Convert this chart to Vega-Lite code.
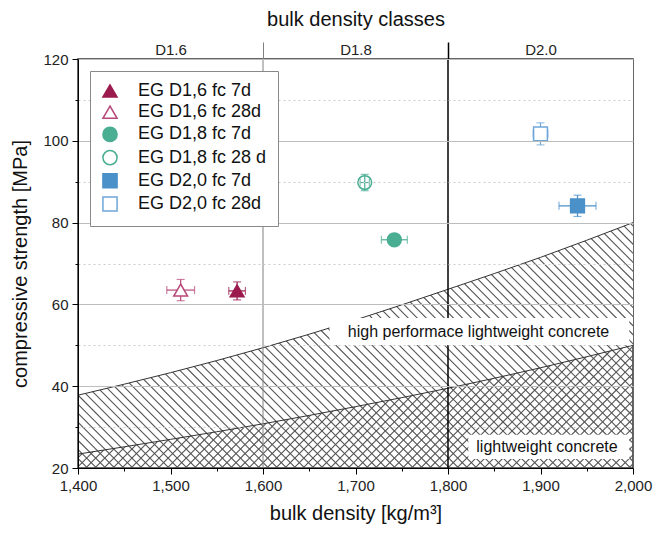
{
  "$schema": "https://vega.github.io/schema/vega-lite/v6.json",
  "width": 555,
  "height": 409,
  "autosize": {"type": "none"},
  "padding": {"left": 78, "top": 59, "right": 22, "bottom": 66},
  "background": "white",
  "config": {
    "font": "Liberation Sans",
    "view": {"stroke": "#333", "strokeWidth": 1.5},
    "axis": {"labelFont": "Liberation Sans", "titleFont": "Liberation Sans", "titleFontWeight": "normal", "labelColor": "#222", "titleColor": "#111", "domainColor": "#000", "tickColor": "#000"},
    "legend": {"labelFont": "Liberation Sans", "labelFontSize": 18, "labelColor": "#111", "symbolSize": 200, "symbolStrokeWidth": 1.5, "symbolOpacity": 1, "padding": 11, "rowPadding": 1.2, "labelOffset": 19, "strokeColor": "#888", "fillColor": "white"}
  },
  "datasets": {
    "points": [
      {"series": "EG D1,6 fc 7d", "x": 1572, "y": 63.3, "xmin": 1563, "xmax": 1581, "ymin": 61.1, "ymax": 65.5},
      {"series": "EG D1,6 fc 28d", "x": 1511, "y": 63.5, "xmin": 1496, "xmax": 1526, "ymin": 60.9, "ymax": 66.1},
      {"series": "EG D1,8 fc 7d", "x": 1742, "y": 75.8, "xmin": 1728, "xmax": 1756, "ymin": 75.0, "ymax": 76.6},
      {"series": "EG D1,8 fc 28 d", "x": 1710, "y": 89.8, "xmin": 1705, "xmax": 1715, "ymin": 87.8, "ymax": 91.8},
      {"series": "EG D2,0 fc 7d", "x": 1940, "y": 84.1, "xmin": 1920, "xmax": 1960, "ymin": 81.5, "ymax": 86.7},
      {"series": "EG D2,0 fc 28d", "x": 1900, "y": 101.7, "xmin": 1892, "xmax": 1908, "ymin": 99.0, "ymax": 104.4}
    ],
    "bounds": [
      {"density": 1400, "upper": 37.8, "lower": 23.4},
      {"density": 1500, "upper": 43.3, "lower": 27.0},
      {"density": 1600, "upper": 49.4, "lower": 30.8},
      {"density": 1700, "upper": 56.2, "lower": 35.0},
      {"density": 1800, "upper": 63.7, "lower": 39.5},
      {"density": 1900, "upper": 71.5, "lower": 44.5},
      {"density": 2000, "upper": 80.0, "lower": 50.0}
    ],
    "labels": [
      {"label": "high performace lightweight concrete", "x1": 1672, "x2": 1996, "y1": 50.1, "y2": 56.7, "tx": 1833, "ty": 53.2},
      {"label": "lightweight concrete", "x1": 1822, "x2": 1996, "y1": 22.2, "y2": 28.1, "tx": 1907, "ty": 25.2}
    ]
  },
  "resolve": {"axis": {"x": "independent"}},
  "layer": [
    {
      "data": {"values": [{}]},
      "mark": {"type": "rule", "clip": true, "strokeWidth": 860, "strokeDash": [1.1, 5.3], "color": "#555"},
      "encoding": {
        "x": {"datum": 1375.7, "type": "quantitative", "scale": {"domain": [1400, 2000], "nice": false, "zero": false}, "axis": null},
        "y": {"datum": 143.35, "type": "quantitative", "scale": {"domain": [20, 120], "nice": false, "zero": false}},
        "x2": {"datum": 2024.3},
        "y2": {"datum": -3.35}
      }
    },
    {
      "data": {"name": "bounds"},
      "mark": {"type": "area", "color": "white", "interpolate": "monotone"},
      "encoding": {
        "x": {"field": "density", "type": "quantitative",
          "axis": {"orient": "bottom", "values": [1400, 1450, 1500, 1550, 1600, 1650, 1700, 1750, 1800, 1850, 1900, 1950, 2000], "format": ",d",
            "labelExpr": "datum.value % 100 == 0 ? datum.label : ''", "title": "bulk density [kg/m³]", "titleFontSize": 20, "titlePadding": 10,
            "labelFontSize": 15, "labelPadding": 4, "tickSize": {"condition": {"test": "datum.value % 100 == 0", "value": 6}, "value": 3},
            "grid": false, "labelFlush": false, "labelOverlap": false, "zindex": 1}},
        "y": {"field": "lower", "type": "quantitative",
          "axis": {"values": [20, 30, 40, 50, 60, 70, 80, 90, 100, 110, 120], "labelExpr": "datum.value % 20 == 0 ? datum.label : ''",
            "title": "compressive strength [MPa]", "titleFontSize": 20, "titlePadding": 12, "labelFontSize": 15, "labelPadding": 4,
            "tickSize": {"condition": {"test": "datum.value % 20 == 0", "value": 6}, "value": 3},
            "grid": true,
            "gridColor": {"condition": {"test": "datum.value % 20 == 0", "value": "#bdbdbd"}, "value": "#cccccc"},
            "gridDash": {"condition": {"test": "datum.value % 20 == 0", "value": []}, "value": [2, 3]},
            "labelFlush": false, "labelOverlap": false, "zindex": 1}},
        "y2": {"datum": 120}
      }
    },
    {
      "data": {"values": [{}]},
      "mark": {"type": "rule", "clip": true, "strokeWidth": 860, "strokeDash": [1.1, 5.3], "color": "#555"},
      "encoding": {
        "x": {"datum": 1375.7, "type": "quantitative", "axis": null},
        "y": {"datum": -3.35, "type": "quantitative"},
        "x2": {"datum": 2024.3},
        "y2": {"datum": 143.35}
      }
    },
    {
      "data": {"name": "bounds"},
      "mark": {"type": "area", "color": "white", "interpolate": "monotone"},
      "encoding": {
        "x": {"field": "density", "type": "quantitative", "axis": null},
        "y": {"field": "upper", "type": "quantitative"},
        "y2": {"datum": 120}
      }
    },
    {
      "data": {"name": "bounds"},
      "mark": {"type": "line", "color": "#333", "strokeWidth": 1, "interpolate": "monotone"},
      "encoding": {
        "x": {"field": "density", "type": "quantitative", "axis": null},
        "y": {"field": "upper", "type": "quantitative"}
      }
    },
    {
      "data": {"name": "bounds"},
      "mark": {"type": "line", "color": "#333", "strokeWidth": 1, "interpolate": "monotone"},
      "encoding": {
        "x": {"field": "density", "type": "quantitative", "axis": null},
        "y": {"field": "lower", "type": "quantitative"}
      }
    },
    {
      "data": {"values": [{}]},
      "mark": {"type": "rule", "color": "#808080", "strokeWidth": 1},
      "encoding": {
        "x": {"datum": 1600, "type": "quantitative",
          "axis": {"orient": "top", "values": [1500, 1600, 1700, 1800, 1900],
            "labelExpr": "datum.value == 1500 ? 'D1.6' : datum.value == 1700 ? 'D1.8' : datum.value == 1900 ? 'D2.0' : ''",
            "title": "bulk density classes", "titleFontSize": 20, "titlePadding": 12,
            "labelFontSize": 15, "labelPadding": -12, "labelBaseline": "alphabetic", "tickSize": 17,
            "tickOpacity": {"condition": {"test": "datum.value == 1600 || datum.value == 1800", "value": 1}, "value": 0},
            "tickColor": {"condition": {"test": "datum.value == 1600", "value": "#808080"}, "value": "#000"},
            "tickWidth": {"condition": {"test": "datum.value == 1800", "value": 1.5}, "value": 1},
            "grid": false, "domain": true, "domainColor": "#333", "labelFlush": false, "labelOverlap": false}}
      }
    },
    {
      "data": {"values": [{}]},
      "mark": {"type": "rule", "color": "#000", "strokeWidth": 1.5},
      "encoding": {
        "x": {"datum": 1800, "type": "quantitative", "axis": null}
      }
    },
    {
      "data": {"name": "labels"},
      "mark": {"type": "rect", "color": "white"},
      "encoding": {
        "x": {"field": "x1", "type": "quantitative", "axis": null},
        "x2": {"field": "x2"},
        "y": {"field": "y1", "type": "quantitative"},
        "y2": {"field": "y2"}
      }
    },
    {
      "data": {"name": "labels"},
      "mark": {"type": "text", "fontSize": 16, "color": "#111", "align": "center", "baseline": "middle", "font": "Liberation Sans"},
      "encoding": {
        "x": {"field": "tx", "type": "quantitative", "axis": null},
        "y": {"field": "ty", "type": "quantitative"},
        "text": {"field": "label"}
      }
    },
    {
      "data": {"name": "points"},
      "mark": {"type": "rule", "strokeWidth": 1.2},
      "encoding": {
        "x": {"field": "xmin", "type": "quantitative", "axis": null},
        "x2": {"field": "xmax"},
        "y": {"field": "y", "type": "quantitative"},
        "color": {"field": "series", "type": "nominal", "legend": null,
          "scale": {"domain": ["EG D2,0 fc 28d", "EG D2,0 fc 7d", "EG D1,8 fc 28 d", "EG D1,8 fc 7d", "EG D1,6 fc 28d", "EG D1,6 fc 7d"],
            "range": ["#6fa7d8", "#4a90c9", "#4aae93", "#4aae93", "#b8487a", "#9b1b4f"]}}
      }
    },
    {
      "data": {"name": "points"},
      "mark": {"type": "rule", "strokeWidth": 1.2},
      "encoding": {
        "x": {"field": "x", "type": "quantitative", "axis": null},
        "y": {"field": "ymin", "type": "quantitative"},
        "y2": {"field": "ymax"},
        "color": {"field": "series", "type": "nominal", "legend": null}
      }
    },
    {
      "data": {"name": "points"},
      "mark": {"type": "tick", "orient": "vertical", "size": 8, "thickness": 1.2},
      "encoding": {
        "x": {"field": "xmin", "type": "quantitative", "axis": null},
        "y": {"field": "y", "type": "quantitative"},
        "color": {"field": "series", "type": "nominal", "legend": null}
      }
    },
    {
      "data": {"name": "points"},
      "mark": {"type": "tick", "orient": "vertical", "size": 8, "thickness": 1.2},
      "encoding": {
        "x": {"field": "xmax", "type": "quantitative", "axis": null},
        "y": {"field": "y", "type": "quantitative"},
        "color": {"field": "series", "type": "nominal", "legend": null}
      }
    },
    {
      "data": {"name": "points"},
      "mark": {"type": "tick", "orient": "horizontal", "size": 8, "thickness": 1.2},
      "encoding": {
        "x": {"field": "x", "type": "quantitative", "axis": null},
        "y": {"field": "ymin", "type": "quantitative"},
        "color": {"field": "series", "type": "nominal", "legend": null}
      }
    },
    {
      "data": {"name": "points"},
      "mark": {"type": "tick", "orient": "horizontal", "size": 8, "thickness": 1.2},
      "encoding": {
        "x": {"field": "x", "type": "quantitative", "axis": null},
        "y": {"field": "ymax", "type": "quantitative"},
        "color": {"field": "series", "type": "nominal", "legend": null}
      }
    },
    {
      "data": {"name": "points"},
      "mark": {"type": "point", "strokeWidth": 1.5, "size": 190, "opacity": 1},
      "encoding": {
        "x": {"field": "x", "type": "quantitative", "axis": null},
        "y": {"field": "y", "type": "quantitative"},
        "shape": {"field": "series", "type": "nominal",
          "scale": {"domain": ["EG D1,6 fc 7d", "EG D1,6 fc 28d", "EG D1,8 fc 7d", "EG D1,8 fc 28 d", "EG D2,0 fc 7d", "EG D2,0 fc 28d"],
            "range": ["triangle-up", "triangle-up", "circle", "circle", "square", "square"]},
          "legend": {"title": null, "orient": "none", "legendX": 12, "legendY": 12, "zindex": 2}},
        "fill": {"field": "series", "type": "nominal",
          "scale": {"domain": ["EG D1,6 fc 7d", "EG D1,6 fc 28d", "EG D1,8 fc 7d", "EG D1,8 fc 28 d", "EG D2,0 fc 7d", "EG D2,0 fc 28d"],
            "range": ["#9b1b4f", "white", "#4aae93", "transparent", "#4a90c9", "white"]},
          "legend": {"title": null, "orient": "none", "legendX": 12, "legendY": 12, "zindex": 2}},
        "stroke": {"field": "series", "type": "nominal",
          "scale": {"domain": ["EG D1,6 fc 7d", "EG D1,6 fc 28d", "EG D1,8 fc 7d", "EG D1,8 fc 28 d", "EG D2,0 fc 7d", "EG D2,0 fc 28d"],
            "range": ["#9b1b4f", "#b8487a", "#4aae93", "#4aae93", "#4a90c9", "#6fa7d8"]},
          "legend": {"title": null, "orient": "none", "legendX": 12, "legendY": 12, "zindex": 2}}
      }
    }
  ]
}
